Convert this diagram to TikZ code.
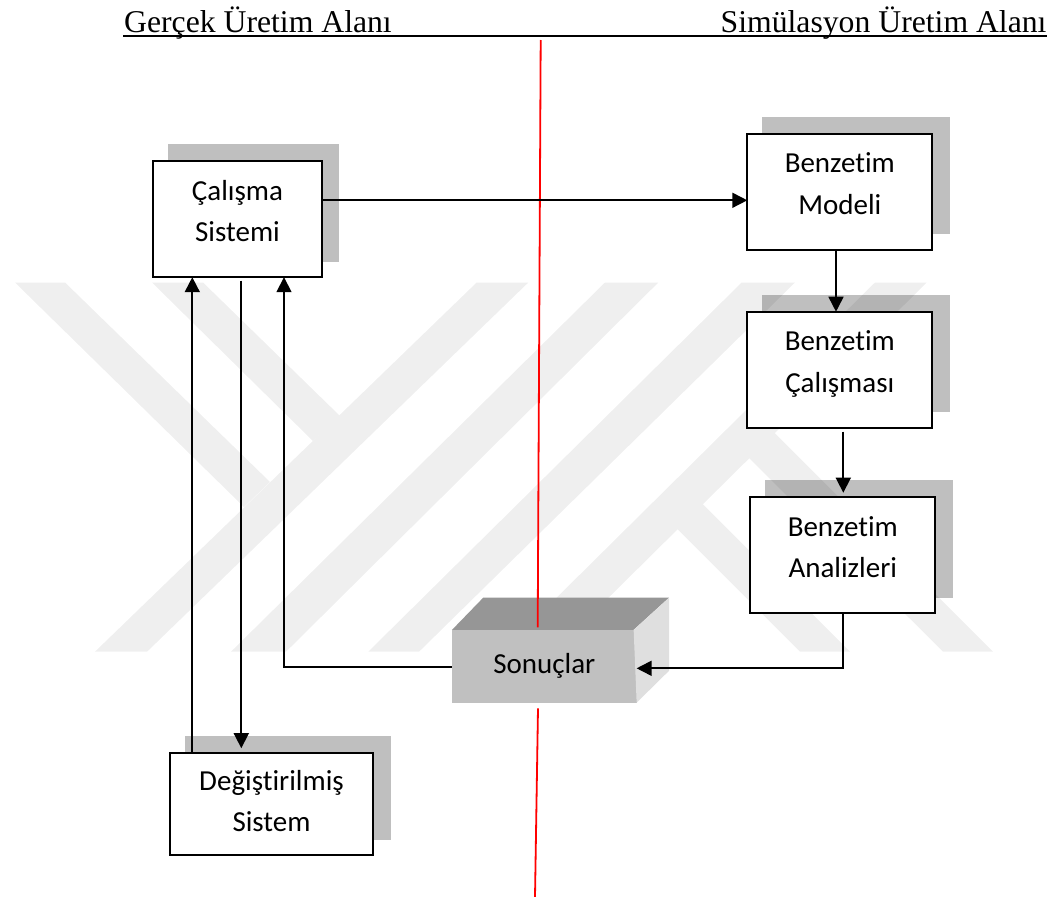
\documentclass[tikz,border=0pt]{standalone}
\usepackage{fontspec}
\setmainfont[Ligatures=NoCommon]{Carlito}
\newfontfamily\headfont{Liberation Serif}
\usetikzlibrary{
  positioning,
  arrows.meta,
  shadows
}
\definecolor{logogray}{HTML}{EFEFEF}
\definecolor{cubefront}{HTML}{C0C0C0}
\definecolor{cubetop}{HTML}{969696}
\definecolor{cubeside}{HTML}{DFDFDF}

\begin{document}
\begin{tikzpicture}[
  x=1pt, y=-1pt,
  every node/.style={font=\fontsize{29}{41.5}\selectfont},
  logoband/.style={fill=logogray},
  header/.style={inner sep=0pt, font=\headfont\fontsize{31.7}{36}\selectfont},
  headline/.style={line width=1.9pt},
  divider/.style={red, line width=1.8pt},
  stagebox/.style={draw, line width=1.9pt, fill=white, rectangle, outer sep=0pt, inner sep=0pt, align=center,
    minimum width=185pt, minimum height=116pt, text height=80.5pt, text depth=35.5pt,
    general shadow={fill=black, opacity=.25, shadow xshift=16pt, shadow yshift=16pt, shadow scale=1.012}},
  resultbox/.style={fill=cubefront, rectangle, outer sep=0pt, inner sep=0pt, minimum width=184.7pt, minimum height=72.7pt},
  arrow/.style={line width=1.7pt, -{Triangle[length=15pt, width=15pt]}}
]
\useasboundingbox (0,0) rectangle (1053,897);

% Watermark
\fill[logoband] (476.7,282.5) -- (528.3,282.5) -- (147,651.7) -- (95,651.7) -- cycle;
\fill[logoband] (15,282.5) -- (65,282.5) -- (270,482) -- (244,507) -- cycle;
\fill[logoband] (152,282.5) -- (203,282.5) -- (340,416) -- (313,441) -- cycle;
\fill[logoband] (605,282.5) -- (658.3,282.5) -- (286,651.7) -- (231,651.7) -- cycle;
\fill[logoband] (741.7,282.5) -- (795,282.5) -- (419,651.7) -- (368.3,651.7) -- cycle;
\fill[logoband] (875,282.5) -- (926.7,282.5) -- (554,651.7) -- (502,651.7) -- cycle;
\fill[logoband] (675,526.6) -- (700.6,502) -- (850,651.7) -- (800,651.7) -- cycle;
\fill[logoband] (748,457) -- (773.6,432) -- (993,651.7) -- (943,651.7) -- cycle;

% Headers
\node[header, anchor=base west] (realarea) at (124,32) {Gerçek Üretim Alanı};
\node[header, anchor=base east] (simarea) at (1046.7,32) {Simülasyon Üretim Alanı};
\coordinate (headleft) at (123,35.7);
\coordinate (headright) at (1047,35.7);
\draw[headline] (headleft) -- (headright);

% Nodes
\node[stagebox, minimum width=168.4pt] (study) at (237.5,219.2) {Çalışma\\ Sistemi};
\node[stagebox, right=425.6pt of study, yshift=27.5pt] (model) {Benzetim\\ Modeli};
\node[stagebox, below=62pt of model] (run) {Benzetim\\ Çalışması};
\node[stagebox, below=69.3pt of run, xshift=3pt] (analysis) {Benzetim\\ Analizleri};
\node[stagebox, minimum width=203.6pt, minimum height=102.3pt, text height=79pt, text depth=23.3pt,
  below=475.7pt of study, xshift=34pt] (changed) {Değiştirilmiş\\ Sistem};

% Cube
\node[resultbox] (results) at (544.3,666.3) {Sonuçlar};
\fill[cubetop] (results.north west) -- ++(31.3,-32.3) -- ++(185.7,0) -- ++(-35.5,32.3) -- cycle;
\fill[cubeside] (results.south east) -- ++(-3,-72.7) -- ++(35.5,-32.3) -- ++(0,73) -- cycle;

% Red line
\coordinate (redtop) at (540.7,40);
\coordinate (redmid) at (537.7,627.3);
\coordinate (redlow) at (538,708.3);
\coordinate (redend) at (535,897);
\draw[divider] (redtop) -- (redmid);
\draw[divider] (redlow) -- (redend);

% Arrows
\draw[arrow] ([yshift=18.9pt]study.east) -- ([yshift=-8.6pt]model.west);
\draw[arrow] ([xshift=-3.8pt]model.south) -- ([xshift=-3.8pt]run.north);
\draw[arrow, shorten <=4pt, shorten >=4.3pt] ([xshift=3.5pt]run.south) -- ([xshift=.5pt]analysis.north);
\draw[arrow] (analysis.south) |- ([yshift=-2pt]results.east);
\draw[arrow] ([yshift=-1pt]results.west) -| ([xshift=46.5pt]study.south);
\draw[arrow] ([xshift=-79.2pt]changed.north) -- ([xshift=-45.2pt]study.south);
\draw[arrow, shorten <=3.4pt, shorten >=4.7pt] ([xshift=3.8pt]study.south) -- ([xshift=-30.2pt]changed.north);

\end{tikzpicture}
\end{document}
